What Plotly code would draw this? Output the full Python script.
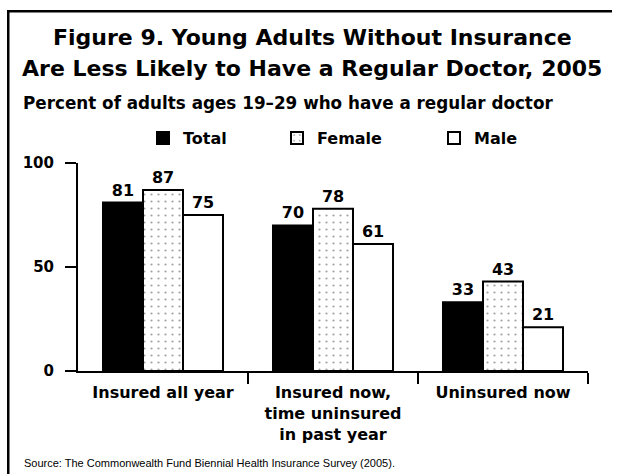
import plotly.graph_objects as go

# Data
categories = ["Insured all year", "Insured now,<br>time uninsured<br>in past year", "Uninsured now"]
series_names = ["Total", "Female", "Male"]
total_vals = [81, 70, 33]
female_vals = [87, 78, 43]
male_vals = [75, 61, 21]
y_ticks = [0, 50, 100]

FONT = "DejaVu Sans, Verdana, sans-serif"
FONT_SMALL = "Liberation Sans, Arial, sans-serif"
x_pos = list(range(len(categories)))

# Plot area in pixels (left, right, top, bottom)
W, H = 619, 474
PL, PR, PT, PB = 78, 588, 163, 371


def px_x(p):
    return (p - PL) / (PR - PL)


def px_y(p):
    return (PB - p) / (PB - PT)


fig = go.Figure()

bar_styles = {
    "Total": dict(color="black", pattern=None),
    "Female": dict(color="white",
                   pattern=dict(shape=".", fgcolor="#444", bgcolor="white",
                                size=7, solidity=0.08, fillmode="overlay")),
    "Male": dict(color="white", pattern=None),
}
legend_ids = ["legend", "legend2", "legend3"]
legend_x = [143, 277, 434]

for name, vals, lid in zip(series_names, [total_vals, female_vals, male_vals], legend_ids):
    st = bar_styles[name]
    marker = dict(color=st["color"], line=dict(color="black", width=2))
    if st["pattern"]:
        marker["pattern"] = st["pattern"]
    fig.add_trace(go.Bar(
        x=x_pos, y=vals, name=name, marker=marker, legend=lid, showlegend=True,
        text=[str(v) for v in vals], textposition="outside",
        textfont=dict(family=FONT, size=16, color="black", weight="bold"),
        cliponaxis=False,
    ))

legend_common = dict(
    orientation="h", xref="container", yref="container",
    xanchor="left", yanchor="middle", y=1 - 138 / H,
    font=dict(family=FONT, size=16, color="black", weight="bold"),
    bgcolor="rgba(0,0,0,0)", itemwidth=30, visible=True,
)

fig.update_layout(
    width=W, height=H,
    showlegend=True,
    margin=dict(l=PL, r=W - PR, t=PT, b=H - PB, autoexpand=False),
    paper_bgcolor="white", plot_bgcolor="white",
    barmode="group", bargap=0.294, bargroupgap=0,
    font=dict(family=FONT, color="black"),
    legend=dict(legend_common, x=legend_x[0] / W),
    legend2=dict(legend_common, x=legend_x[1] / W),
    legend3=dict(legend_common, x=legend_x[2] / W),
    xaxis=dict(
        range=[-0.5, 2.5], tickmode="array", tickvals=x_pos, ticktext=categories,
        ticks="", showline=True, linecolor="black", linewidth=2,
        showgrid=False, zeroline=False, ticklabelstandoff=6,
        tickfont=dict(family=FONT, size=16, color="black", weight="bold"),
        minor=dict(tickmode="array", tickvals=[0.5, 1.5, 2.5], ticks="outside",
                   ticklen=11, tickwidth=2, tickcolor="black", showgrid=False),
    ),
    yaxis=dict(
        range=[0, 100], tickmode="array", tickvals=y_ticks,
        ticks="outside", ticklen=11, tickwidth=2, tickcolor="black",
        showline=True, linecolor="black", linewidth=2,
        showgrid=False, zeroline=False, ticklabelstandoff=8,
        tickfont=dict(family=FONT, size=15, color="black", weight="bold"),
    ),
)

title_lines = ["Figure 9. Young Adults Without Insurance",
               "Are Less Likely to Have a Regular Doctor, 2005"]
for line, yc in zip(title_lines, [38, 68]):
    fig.add_annotation(
        text=line, xref="paper", yref="paper", x=px_x(312), y=px_y(yc),
        xanchor="center", yanchor="middle", showarrow=False,
        font=dict(family=FONT, size=22, color="black", weight="bold"),
    )

fig.add_annotation(
    text="Percent of adults ages 19\u201329 who have a regular doctor",
    xref="paper", yref="paper", x=px_x(21), y=px_y(103),
    xanchor="left", yanchor="middle", showarrow=False,
    font=dict(family=FONT, size=16.8, color="black", weight="bold"),
)
fig.add_annotation(
    text="Source: The Commonwealth Fund Biennial Health Insurance Survey (2005).",
    xref="paper", yref="paper", x=px_x(22), y=px_y(463),
    xanchor="left", yanchor="middle", showarrow=False,
    font=dict(family=FONT_SMALL, size=11, color="black"),
)

# Frame: thin filled strips along the top and left edge
for (x0, y0, x1, y1) in [(7, 10, 612, 12.5), (7, 10, 9.5, 480)]:
    fig.add_shape(type="rect", xref="paper", yref="paper",
                  x0=px_x(x0), x1=px_x(x1), y0=px_y(y0), y1=px_y(y1),
                  line=dict(width=0), fillcolor="black")

fig.write_html("out.html")
